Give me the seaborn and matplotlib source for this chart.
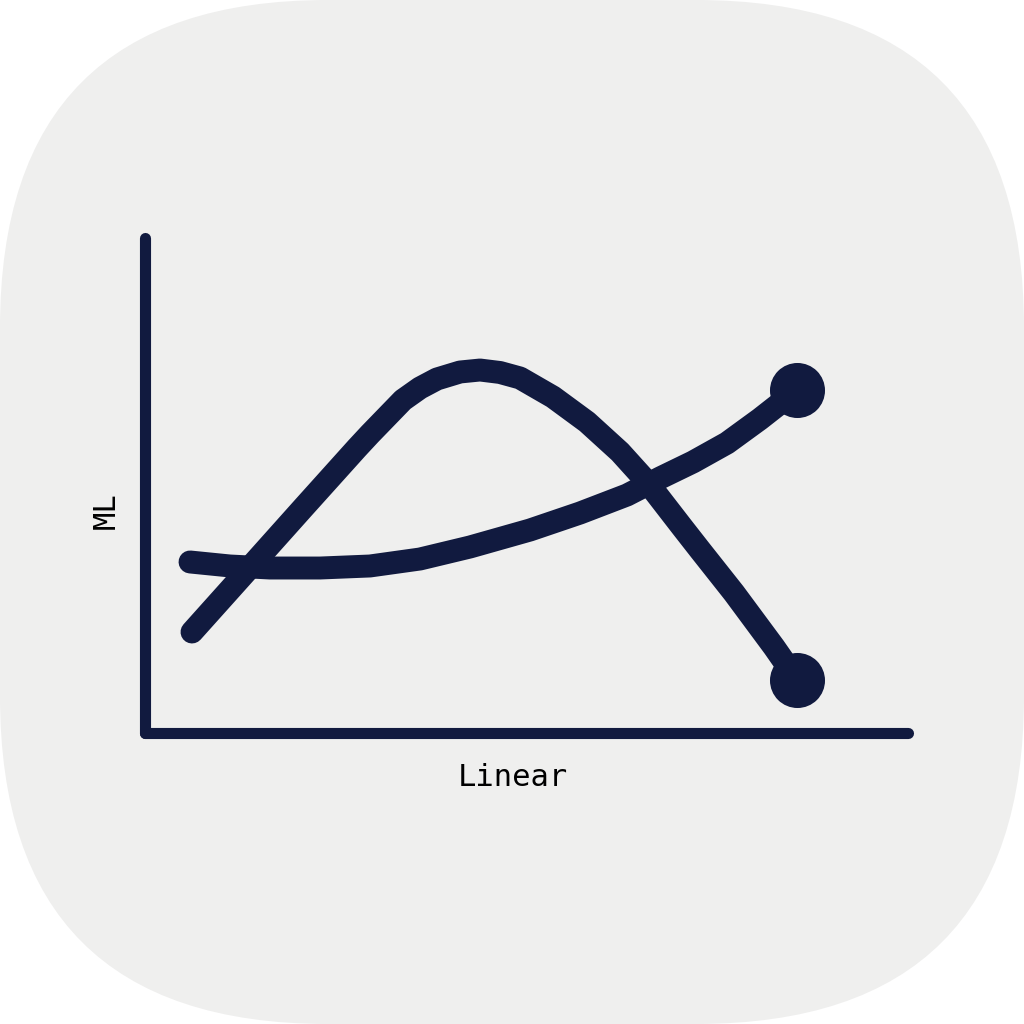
import matplotlib
matplotlib.use("Agg")
import matplotlib.pyplot as plt
import pandas as pd
import seaborn as sns
from matplotlib.patches import FancyBboxPatch

# values (axis units 0..100)
bump_x = [6.16, 14.15, 20.71, 27.79, 29.49, 33.81, 36.04, 38.27, 41.29, 43.91, 46.53, 49.15,
          53.47, 57.93, 62.25, 65.92, 70.38, 72.74, 77.20, 82.44, 85.45]
bump_y = [20.40, 34.14, 45.45, 57.58, 60.40, 67.27, 69.70, 71.52, 72.93, 73.33, 72.83, 71.72,
          67.88, 62.83, 56.77, 50.51, 41.62, 36.97, 28.28, 17.37, 10.71]

rise_x = [5.90, 11.14, 16.38, 22.94, 29.49, 36.04, 42.60, 50.46, 57.01, 63.17, 67.50,
          71.82, 76.28, 80.60, 85.45]
rise_y = [34.55, 33.74, 33.33, 33.33, 33.74, 35.15, 37.58, 41.01, 44.44, 48.08, 51.52,
          54.75, 58.58, 63.43, 69.29]

x_label = "Linear"
y_label = "ML"

NAVY = "#111a3f"
CARD = "#efefee"

sns.set_theme(style="white")
plt.rcParams["font.family"] = ["DejaVu Sans Mono", "DejaVu Sans"]

fig = plt.figure(figsize=(10.24, 10.24), dpi=100)
fig.patch.set_facecolor("white")

# rounded card behind everything
card = FancyBboxPatch((0.0, 0.0), 1.0, 1.0, boxstyle="round,pad=0,rounding_size=0.32",
                      transform=fig.transFigure, facecolor=CARD, edgecolor="none", zorder=-5)
fig.patches.append(card)

W = H = 1024
ax = fig.add_axes([145 / W, (H - 733) / H, (908 - 145) / W, (733 - 238) / H])
ax.set_zorder(5)
ax.set_facecolor("none")
ax.set_xlim(0, 100)
ax.set_ylim(0, 100)

df = pd.concat([
    pd.DataFrame({"x": bump_x, "y": bump_y, "series": "bump"}),
    pd.DataFrame({"x": rise_x, "y": rise_y, "series": "rise"}),
])
ends = df.groupby("series").tail(1)

sns.lineplot(data=df, x="x", y="y", units="series", estimator=None, sort=False,
             color=NAVY, linewidth=16.5, solid_capstyle="round", solid_joinstyle="round",
             ax=ax, legend=False, zorder=3)
sns.scatterplot(data=ends, x="x", y="y", color=NAVY, s=1570, linewidth=0,
                ax=ax, legend=False, zorder=4)

for side in ["top", "right"]:
    ax.spines[side].set_visible(False)
for side in ["left", "bottom"]:
    ax.spines[side].set_color(NAVY)
    ax.spines[side].set_linewidth(8)
    ax.spines[side].set_capstyle("round")
ax.set_xticks([])
ax.set_yticks([])
ax.set_xlabel("")
ax.set_ylabel("")

fig.text(513 / W, 1 - 777 / H, x_label, ha="center", va="center", fontsize=22, color="black", zorder=6)
fig.text(106 / W, 1 - 511 / H, y_label, ha="center", va="center", fontsize=22,
         rotation=90, color="black", zorder=6)

fig.savefig("out.png", dpi=100, facecolor="white")
